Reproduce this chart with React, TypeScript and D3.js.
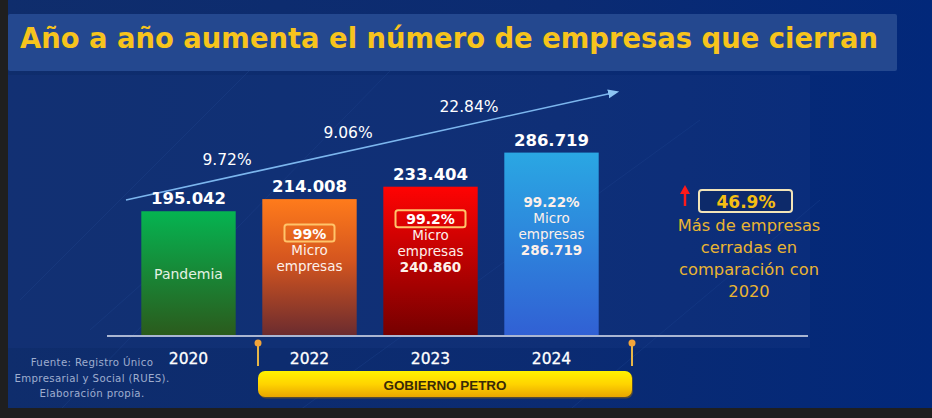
import React from "react";
import * as d3 from "d3";

// chart values
const years = ["2020", "2022", "2023", "2024"];
const closedCompanies = [195042, 214008, 233404, 286719];
const valueLabels = ["195.042", "214.008", "233.404", "286.719"];
const growthLabels = ["9.72%", "9.06%", "22.84%"];
const microShare = ["", "99%", "99.2%", "99.22%"];
const microCount = ["", "", "240.860", "286.719"];
const barNotes = ["Pandemia", "", "", ""];
const summaryValue = "46.9%";
const summaryLines = ["Más de empresas", "cerradas en", "comparación con", "2020"];
const sourceLines = ["Fuente: Registro Único", "Empresarial y Social (RUES).", "Elaboración propia."];
const periodLabel = "GOBIERNO PETRO";
const title = "Año a año aumenta el número de empresas que cierran";

const W = 932;
const H = 418;
const baseY = 336;

const barGradients = [
  ["#05b451", "#2b5a1c"],
  ["#ff7b1b", "#6a2b2f"],
  ["#ff0303", "#750000"],
  ["#2aa7e3", "#3160d4"],
];

const FONT = "'DejaVu Sans', Verdana, sans-serif";

const App: React.FC = () => {
  const x = d3
    .scaleBand<string>()
    .domain(years)
    .range([128, 612])
    .paddingInner(0.22)
    .paddingOuter(0.11);

  const y = d3.scaleLinear().domain([0, 290000]).range([baseY, baseY - 185.5]);

  const bw = x.bandwidth();
  const cx = (yr: string) => (x(yr) ?? 0) + bw / 2;

  // trend arrow (annotation)
  const trend = { x1: 126, y1: 200, x2: 617, y2: 92 };
  const trendY = (px: number) =>
    trend.y1 + ((px - trend.x1) * (trend.y2 - trend.y1)) / (trend.x2 - trend.x1);

  const periodStart = 258;
  const periodEnd = 632;

  // faint background streaks
  const streaks = [
    [20, 300, 260, 60],
    [60, 410, 420, 40],
    [300, 410, 700, 120],
    [560, 418, 820, 200],
    [90, 330, 180, 250],
  ];

  return (
    <div style={{ position: "fixed", left: 0, top: 0 }}>
      <svg width={W} height={H} viewBox={`0 0 ${W} ${H}`} style={{ display: "block" }}>
        <defs>
          <linearGradient id="bg" x1="0" y1="0" x2="1" y2="0">
            <stop offset="0" stopColor="#0f2d6c" />
            <stop offset="0.6" stopColor="#0b2b72" />
            <stop offset="1" stopColor="#02287a" />
          </linearGradient>
          {barGradients.map((g, i) => (
            <linearGradient key={i} id={`bar${i}`} x1="0" y1="0" x2="0" y2="1">
              <stop offset="0" stopColor={g[0]} />
              {i === 1 && <stop offset="0.45" stopColor="#d4551f" />}
              <stop offset="1" stopColor={g[1]} />
            </linearGradient>
          ))}
          <linearGradient id="gold" x1="0" y1="0" x2="0" y2="1">
            <stop offset="0" stopColor="#fff200" />
            <stop offset="0.5" stopColor="#ffd400" />
            <stop offset="1" stopColor="#e9a600" />
          </linearGradient>
          <marker id="arrowHead" viewBox="0 0 10 10" refX="8" refY="5" markerWidth="7" markerHeight="7" orient="auto">
            <path d="M0,1 L10,5 L0,9 z" fill="#8cc4f4" />
          </marker>
        </defs>

        {/* background */}
        <rect x={0} y={0} width={W} height={H} fill="url(#bg)" />
        {streaks.map((s, i) => (
          <line key={i} x1={s[0]} y1={s[1]} x2={s[2]} y2={s[3]} stroke="#3a64b0" strokeOpacity={0.18} strokeWidth={1} />
        ))}
        <rect x={8} y={75} width={802} height={273} fill="#1a3c86" fillOpacity={0.25} />

        {/* title banner */}
        <rect x={8} y={14} width={889} height={57} rx={2} fill="#24488f" />
        <text
          x={20}
          y={48}
          fill="#f7c41c"
          fontFamily={FONT}
          fontWeight="bold"
          fontSize={27.5}
          textLength={858}
          lengthAdjust="spacingAndGlyphs"
        >
          {title}
        </text>

        {/* trend arrow */}
        <line
          x1={trend.x1}
          y1={trend.y1}
          x2={trend.x2}
          y2={trend.y2}
          stroke="#7cb6ee"
          strokeWidth={1.6}
          markerEnd="url(#arrowHead)"
        />
        {growthLabels.map((g, i) => {
          const px = (cx(years[i]) + cx(years[i + 1])) / 2 - 22;
          return (
            <text
              key={g}
              x={px}
              y={trendY(px) - 13}
              textAnchor="middle"
              fill="#ffffff"
              fontFamily={FONT}
              fontSize={15.5}
            >
              {g}
            </text>
          );
        })}

        {/* bars */}
        {years.map((yr, i) => {
          const top = y(closedCompanies[i]);
          const left = x(yr) ?? 0;
          const c = cx(yr);
          const mid = (top + baseY) / 2;
          const lines: { t: string; kind: string }[] = [];
          if (barNotes[i]) lines.push({ t: barNotes[i], kind: "note" });
          if (microShare[i]) lines.push({ t: microShare[i], kind: i === 3 ? "bold" : "box" });
          if (microShare[i]) {
            lines.push({ t: "Micro", kind: "plain" });
            lines.push({ t: "empresas", kind: "plain" });
          }
          if (microCount[i]) lines.push({ t: microCount[i], kind: "bold" });
          const lh = 16;
          const blockMid = lines.length > 1 ? mid - 18 : mid;
          const firstY = blockMid - ((lines.length - 1) * lh) / 2;
          return (
            <g key={yr}>
              <rect x={left} y={top} width={bw} height={baseY - top} fill={`url(#bar${i})`} />
              <text
                x={c}
                y={top - 7}
                textAnchor="middle"
                fill="#ffffff"
                fontFamily={FONT}
                fontWeight="bold"
                fontSize={16.5}
              >
                {valueLabels[i]}
              </text>
              {lines.map((l, j) => {
                const ly = firstY + j * lh;
                if (l.kind === "box") {
                  const bwBox = l.t.length * 10 + 20;
                  return (
                    <g key={j}>
                      <rect
                        x={c - bwBox / 2}
                        y={ly - 9}
                        width={bwBox}
                        height={17}
                        rx={2.5}
                        fill="none"
                        stroke="#ffc46a"
                        strokeWidth={2}
                      />
                      <text x={c} y={ly + 5} textAnchor="middle" fill="#ffffff" fontFamily={FONT} fontWeight="bold" fontSize={14}>
                        {l.t}
                      </text>
                    </g>
                  );
                }
                return (
                  <text
                    key={j}
                    x={c}
                    y={ly + 5}
                    textAnchor="middle"
                    fill={l.kind === "note" ? "#e4f2e2" : "#fdf0ea"}
                    fontFamily={FONT}
                    fontWeight={l.kind === "bold" ? "bold" : "normal"}
                    fontSize={l.kind === "note" ? 14 : 13.5}
                  >
                    {l.t}
                  </text>
                );
              })}
            </g>
          );
        })}

        {/* baseline and year labels */}
        <line x1={107} y1={baseY} x2={808} y2={baseY} stroke="#aab6d2" strokeWidth={2} />
        {years.map((yr) => (
          <text
            key={yr}
            x={cx(yr)}
            y={364}
            textAnchor="middle"
            fill="#ffffff"
            fontFamily={FONT}
            fontSize={15.5}
            stroke="#ffffff"
            strokeWidth={0.3}
          >
            {yr}
          </text>
        ))}

        {/* period markers */}
        {[periodStart, periodEnd].map((px) => (
          <g key={px}>
            <line x1={px} y1={343} x2={px} y2={366} stroke="#e6b649" strokeWidth={2} />
            <circle cx={px} cy={343} r={3.5} fill="#f2a43a" />
          </g>
        ))}
        <rect x={periodStart} y={371} width={periodEnd - periodStart} height={26} rx={7} fill="#9a6a00" opacity={0.5} transform="translate(1,1.5)" />
        <rect x={periodStart} y={371} width={periodEnd - periodStart} height={26} rx={7} fill="url(#gold)" />
        <text
          x={(periodStart + periodEnd) / 2}
          y={390}
          textAnchor="middle"
          fill="#3a2a06"
          fontFamily="'Liberation Sans', sans-serif"
          fontWeight="bold"
          fontSize={13.5}
          textLength={123}
          lengthAdjust="spacingAndGlyphs"
        >
          {periodLabel}
        </text>

        {/* source */}
        {sourceLines.map((s, i) => (
          <text
            key={s}
            x={92}
            y={366 + i * 15.5}
            textAnchor="middle"
            fill="#9fadcf"
            fontFamily={FONT}
            fontSize={10.2}
            letterSpacing={0.35}
          >
            {s}
          </text>
        ))}

        {/* summary annotation */}
        <line x1={685} y1={206} x2={685} y2={192} stroke="#ff1a1a" strokeWidth={2.5} />
        <path d="M680,194 L685,185 L690,194 z" fill="#ff1a1a" />
        <rect x={699} y={190} width={93} height={22} rx={3} fill="#0d2a6a" stroke="#f2e4b8" strokeWidth={2} />
        <text x={746} y={208} textAnchor="middle" fill="#f5bf12" fontFamily={FONT} fontWeight="bold" fontSize={17}>
          {summaryValue}
        </text>
        {summaryLines.map((s, i) => (
          <text key={s} x={749} y={231 + i * 22} textAnchor="middle" fill="#e9b432" fontFamily={FONT} fontSize={16.3}>
            {s}
          </text>
        ))}

        {/* photo frame edges */}
        <rect x={0} y={0} width={8} height={H} fill="#1f1f1f" />
        <rect x={0} y={408} width={W} height={10} fill="#1f1f1f" />
      </svg>
    </div>
  );
};

export default App;
